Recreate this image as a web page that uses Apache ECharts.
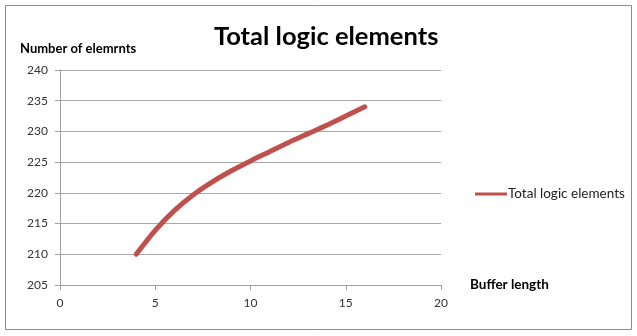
<!DOCTYPE html>
<html>
<head>
<meta charset="utf-8">
<script src="https://cdn.jsdelivr.net/npm/echarts@6/dist/echarts.min.js"></script>
<style>
  html, body { margin: 0; padding: 0; background: #fff; }
  #chart { width: 637px; height: 336px; }
</style>
</head>
<body>
<div id="chart"></div>
<script>
// Buffer length vs. total logic elements
const bufferLength = [4, 5, 6, 7, 8, 9, 10, 11, 12, 13, 14, 15, 16];
const logicElements = [210, 213.9, 217.1, 219.7, 221.8, 223.6, 225.2, 226.7, 228.2, 229.6, 231.0, 232.5, 234];
const seriesName = 'Total logic elements';

const font = 'Lato, "Open Sans", sans-serif';
const chart = echarts.init(document.getElementById('chart'));
chart.setOption({
  animation: false,
  backgroundColor: '#fff',
  graphic: [{
    type: 'rect',
    shape: { x: 5.5, y: 5.5, width: 626, height: 324 },
    style: { fill: 'none', stroke: '#8c8c8c', lineWidth: 1 }
  }],
  title: {
    text: 'Total logic elements',
    left: 209, top: 19,
    textStyle: { fontFamily: font, fontSize: 25.5, fontWeight: 'bold', color: '#000' }
  },
  legend: {
    left: 470, top: 182,
    itemWidth: 32, itemHeight: 3, itemGap: 2,
    icon: 'rect',
    textStyle: { fontFamily: font, fontSize: 13.5, color: '#222', padding: [0, 0, 0, -4] },
    data: [{ name: seriesName }]
  },
  grid: { left: 60, right: 196, top: 70, bottom: 51, containLabel: false },
  xAxis: {
    type: 'value', min: 0, max: 20, interval: 5,
    name: 'Buffer length', nameLocation: 'end', nameGap: 29,
    nameTextStyle: { fontFamily: font, fontSize: 13.5, fontWeight: 'bold', color: '#000', verticalAlign: 'middle', padding: [0, 0, 0, 0] },
    axisLine: { show: true, lineStyle: { color: '#a0a0a0' } },
    axisTick: { show: true, length: 5, lineStyle: { color: '#a0a0a0' } },
    axisLabel: { fontFamily: font, fontSize: 12, color: '#333', margin: 12 },
    splitLine: { show: false }
  },
  yAxis: {
    type: 'value', min: 205, max: 240, interval: 5,
    name: 'Number of elemrnts', nameLocation: 'end', nameGap: 15,
    nameTextStyle: { fontFamily: font, fontSize: 13, fontWeight: 'bold', color: '#000', align: 'left', padding: [0, 0, 0, -40] },
    axisLine: { show: true, lineStyle: { color: '#a0a0a0' } },
    axisTick: { show: true, length: 5, lineStyle: { color: '#a0a0a0' } },
    axisLabel: { fontFamily: font, fontSize: 12, color: '#333', margin: 12 },
    splitLine: { show: true, lineStyle: { color: '#a8a8a8' } }
  },
  series: [{
    name: seriesName,
    type: 'line',
    smooth: 0.3,
    showSymbol: false,
    data: bufferLength.map((x, i) => [x, logicElements[i]]),
    lineStyle: { color: '#c0504d', width: 5, cap: 'round' },
    itemStyle: { color: '#c0504d' }
  }]
});
</script>
</body>
</html>
